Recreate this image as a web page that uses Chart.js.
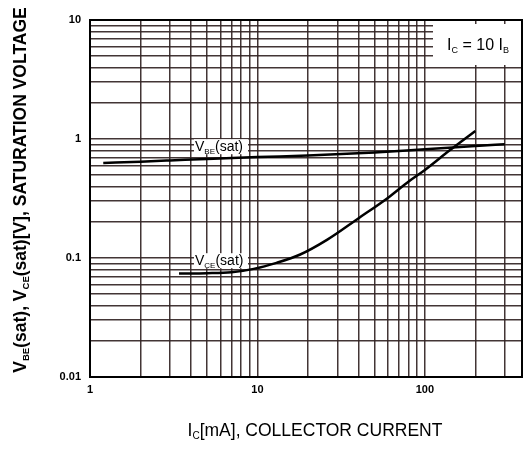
<!DOCTYPE html>
<html>
<head>
<meta charset="utf-8">
<script src="https://cdn.jsdelivr.net/npm/chart.js@4.4.1/dist/chart.umd.min.js"></script>
<style>
    html, body { margin: 0; padding: 0; background: #fff; }
    #wrap { width: 527px; height: 450px; }
</style>
</head>
<body>
<div id="wrap"><canvas id="myChart" width="527" height="450"></canvas></div>
<script>
// values (Ic in mA, voltage in V)
const vbeCurrent = [1.2, 2, 3, 5, 10, 20, 50, 100, 200, 300];
const vbeVoltage = [0.628, 0.645, 0.66, 0.68, 0.705, 0.725, 0.77, 0.82, 0.872, 0.905];
const vceCurrent = [3.4, 5, 7, 9.5, 13, 18, 26, 40, 60, 80, 100, 140, 200];
const vceVoltage = [0.074, 0.0745, 0.076, 0.081, 0.091, 0.107, 0.142, 0.215, 0.32, 0.44, 0.55, 0.8, 1.17];

const xTicks = [1, 2, 3, 4, 5, 6, 7, 8, 9, 10, 20, 30, 40, 50, 60, 70, 80, 90, 100, 200, 300];
const xLabels = ['1', '10', '100'];
const yTicks = [0.01, 0.02, 0.03, 0.04, 0.05, 0.06, 0.07, 0.08, 0.09,
    0.1, 0.2, 0.3, 0.4, 0.5, 0.6, 0.7, 0.8, 0.9, 1, 2, 3, 4, 5, 6, 7, 8, 9, 10];
const yLabels = ['0.01', '0.1', '1', '10'];

const FONT = 'Arial, "Liberation Sans", sans-serif';
const gridColor = 'rgba(50, 36, 36, 0.92)';

function toPoints(xs, ys) {
    return xs.map((x, i) => ({x: x, y: ys[i]}));
}

function labelFor(value, list) {
    let hit = list.find(l => Math.abs(parseFloat(l) - value) < value * 1e-6);
    return hit === undefined ? '' : hit;
}

// draws text with subscripts, parts = [[text, size, sub, bold]]
function drawRich(ctx, parts, x, y, align) {
    let w = 0;
    parts.forEach(p => {
        ctx.font = (p[3] ? 'bold ' : '') + p[1] + 'px ' + FONT;
        w += ctx.measureText(p[0]).width;
    });
    let cx = align === 'center' ? x - w / 2 : x;
    parts.forEach(p => {
        ctx.font = (p[3] ? 'bold ' : '') + p[1] + 'px ' + FONT;
        ctx.fillText(p[0], cx, y + (p[2] ? 3 : 0));
        cx += ctx.measureText(p[0]).width;
    });
    return w;
}

const decorations = {
    id: 'decorations',
    beforeDatasetsDraw(chart) {
        const ctx = chart.ctx;
        const a = chart.chartArea;
        const ys = chart.scales.y;
        ctx.save();
        ctx.textBaseline = 'alphabetic';

        // condition box top right
        ctx.fillStyle = '#fff';
        ctx.fillRect(433, a.top + 4, a.right - 433 - 1, 65 - a.top - 4);
        ctx.fillStyle = '#000';
        drawRich(ctx, [['I', 16], ['C', 9, true], [' = 10 I', 16], ['B', 9, true]], 478, 50, 'center');

        // curve labels
        let lx = 195;
        let yb = ys.getPixelForValue(0.79);
        ctx.fillStyle = '#fff';
        ctx.fillRect(lx - 1, yb - 12, 54, 15);
        ctx.fillStyle = '#000';
        drawRich(ctx, [['V', 14], ['BE', 8, true], ['(sat)', 14]], lx, yb, 'left');

        let yc = ys.getPixelForValue(0.087);
        ctx.fillStyle = '#fff';
        ctx.fillRect(lx - 1, yc - 12, 54, 15);
        ctx.fillStyle = '#000';
        drawRich(ctx, [['V', 14], ['CE', 8, true], ['(sat)', 14]], lx, yc, 'left');
        ctx.restore();
    },
    afterDraw(chart) {
        const ctx = chart.ctx;
        const a = chart.chartArea;
        ctx.save();
        ctx.strokeStyle = '#000';
        ctx.lineWidth = 2;
        ctx.strokeRect(a.left, a.top, a.right - a.left, a.bottom - a.top);

        ctx.fillStyle = '#000';
        ctx.textBaseline = 'alphabetic';
        // x axis title
        drawRich(ctx, [['I', 17.5], ['C', 10, true], ['[mA], COLLECTOR CURRENT', 17.5]], 315, 436, 'center');
        // y axis title
        ctx.translate(26, 190);
        ctx.rotate(-Math.PI / 2);
        drawRich(ctx, [['V', 17.5, false, true], ['BE', 9.5, true, true], ['(sat), V', 17.5, false, true],
            ['CE', 9.5, true, true], ['(sat)[V], SATURATION VOLTAGE', 17.5, false, true]], 0, 0, 'center');
        ctx.restore();
    }
};

const ctx = document.getElementById('myChart');
const myChart = new Chart(ctx, {
    type: 'line',
    data: {
        datasets: [{
            label: 'VBE(sat)',
            data: toPoints(vbeCurrent, vbeVoltage),
            borderColor: '#000',
            borderWidth: 2.5,
            pointRadius: 0,
            cubicInterpolationMode: 'monotone',
            fill: false
        }, {
            label: 'VCE(sat)',
            data: toPoints(vceCurrent, vceVoltage),
            borderColor: '#000',
            borderWidth: 2.5,
            pointRadius: 0,
            cubicInterpolationMode: 'monotone',
            fill: false
        }]
    },
    options: {
        responsive: false,
        animation: false,
        layout: {padding: {top: 20, right: 5, left: 0, bottom: 0}},
        plugins: {legend: {display: false}, tooltip: {enabled: false}},
        scales: {
            x: {
                type: 'logarithmic',
                min: 1,
                max: 380,
                afterBuildTicks: scale => { scale.ticks = xTicks.map(v => ({value: v})) },
                afterFit: scale => { scale.height = 73 },
                grid: {color: gridColor, lineWidth: 1.5, drawTicks: false},
                border: {display: true, color: '#000', width: 2},
                ticks: {
                    autoSkip: false,
                    maxRotation: 0,
                    padding: 6,
                    color: '#000',
                    font: {family: FONT, size: 11, weight: 'bold'},
                    callback: value => labelFor(value, xLabels)
                }
            },
            y: {
                type: 'logarithmic',
                min: 0.01,
                max: 10,
                afterBuildTicks: scale => { scale.ticks = yTicks.map(v => ({value: v})) },
                afterFit: scale => { scale.width = 90 },
                grid: {color: gridColor, lineWidth: 1.5, drawTicks: false},
                border: {display: true, color: '#000', width: 2},
                ticks: {
                    autoSkip: false,
                    padding: 9,
                    color: '#000',
                    font: {family: FONT, size: 11, weight: 'bold'},
                    callback: value => labelFor(value, yLabels)
                }
            }
        }
    },
    plugins: [decorations]
});
</script>
</body>
</html>
